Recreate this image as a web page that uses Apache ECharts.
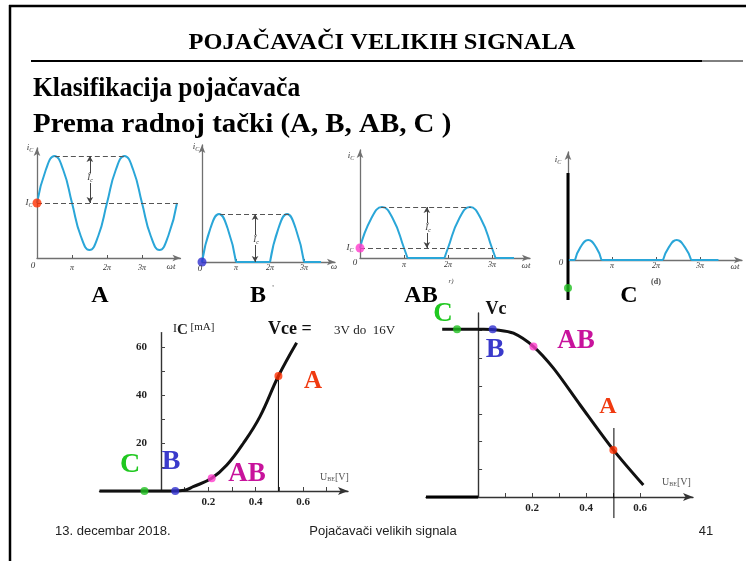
<!DOCTYPE html>
<html><head><meta charset="utf-8">
<script src="https://cdn.jsdelivr.net/npm/echarts@6/dist/echarts.min.js"></script>
<style>html,body{margin:0;padding:0;background:#fff}#c{width:746px;height:561px}</style>
</head><body><div id="c"></div>
<script>
// ===== DATA =====
// top waveform panels (x in units of pi, y in arbitrary current units)
const piTicks = [1, 2, 3];
const piTickLabels = ['π', '2π', '3π'];

const waveA = [[0,55],[0.25,88],[0.5,102],[0.75,88],[1,55],[1.25,22],[1.5,8],[1.75,22],[2,55],[2.25,88],[2.5,102],[2.75,88],[3,55],[3.25,22],[3.5,8],[3.75,22],[4,55]];
const humpsB = [[[0,0],[0.25,34],[0.5,48],[0.75,34],[1,0]], [[2,0],[2.25,34],[2.5,48],[2.75,34],[3,0]]];
const flatsB = [[[1,0],[2,0]], [[3,0],[3.5,0]]];
const humpsAB = [[[0,10],[0.25,39],[0.5,51],[0.75,39],[1,10],[1.08,0]], [[1.92,0],[2,10],[2.25,39],[2.5,51],[2.75,39],[3,10],[3.08,0]]];
const flatsAB = [[[1.08,0],[1.92,0]], [[3.08,0],[3.5,0]]];
const humpsC = [[[0.16,0],[0.28,12.6],[0.46,20],[0.64,12.6],[0.76,0]], [[2.16,0],[2.29,12.6],[2.47,20],[2.66,12.6],[2.8,0]]];
const flatsC = [[[0.02,0],[0.16,0]], [[0.76,0],[2.16,0]], [[2.8,0],[3.42,0]]];
const quiescentA = [0, 55], quiescentB = [0, 0], quiescentAB = [0, 10], quiescentC = [0, -28];
const peakA = 102, peakB = 48, peakAB = 51;

// input characteristic Ic(Ube)
const inUbe = [-0.26, 0, 0.05, 0.1, 0.136, 0.214, 0.278, 0.348, 0.418, 0.496, 0.573];
const inIc  = [0, 0, 0, 0.3, 1.8, 5.3, 10.8, 19.9, 31, 47.9, 61.8];
const inPtC = [-0.07, 0], inPtB = [0.06, 0], inPtAB = [0.214, 5.3], inPtA = [0.496, 47.9];
const icTicks = [10, 20, 30, 40, 50, 60];
const icLabels = [20, 40, 60];
const ubeTicksL = [0.1, 0.2, 0.3, 0.4, 0.5, 0.6, 0.7];
const ubeLabels = [0.2, 0.4, 0.6];

// transfer characteristic Vc(Ube)
const outUbe = [-0.133, 0.02, 0.07, 0.131, 0.205, 0.279, 0.378, 0.501, 0.612];
const outVc  = [6.05, 6.05, 6.03, 5.91, 5.43, 4.65, 3.32, 1.70, 0.43];
const outPtC = [-0.078, 6.05], outPtB = [0.054, 6.05], outPtAB = [0.205, 5.43], outPtA = [0.501, 1.70];
const vcTicks = [1, 2, 3, 4, 5, 6];
const ubeTicksR = [0.1, 0.2, 0.3, 0.4, 0.5, 0.6];

// ===== STYLE =====
const serif = "'Liberation Serif','Times New Roman',serif";
const sans = "'Liberation Sans',Arial,sans-serif";
const waveColor = '#2aa6d8';
const axisGray = '#707070';
const cRed = '#f03a10', cBlue = '#3a3acb', cMag = '#c8139c', cGreen = '#20c820';
const dRed = '#ff3000', dBlue = '#3030d0', dPink = '#ff3ccc', dGreen = '#20c020';

const grids = [
  {left:37, top:148, width:143.5, height:110},
  {left:202, top:145, width:133, height:117},
  {left:360, top:150, width:170, height:108},
  {left:568, top:152, width:174, height:108},
  {left:99.5, top:332.6, width:248.5, height:158.4},
  {left:426, top:313, width:267, height:184}
].map(g => Object.assign({containLabel:false, outerBoundsMode:'none', show:false}, g));

function topX(gi, max, margin) {
  return {gridIndex:gi, type:'value', min:0, max:max,
    axisLine:{onZero:false, lineStyle:{color:axisGray, width:1.3}, symbol:['none','arrow'], symbolSize:[5,8]},
    axisTick:{show:true, inside:true, length:3, customValues:piTicks, lineStyle:{color:'#555'}},
    axisLabel:{show:true, customValues:piTicks, formatter:v => piTickLabels[piTicks.indexOf(Math.round(v))] || '',
      fontFamily:serif, fontStyle:'italic', fontSize:8, color:'#333', margin:margin},
    splitLine:{show:false}};
}
function topY(gi, min, max) {
  return {gridIndex:gi, type:'value', min:min, max:max,
    axisLine:{onZero:false, lineStyle:{color:axisGray, width:1.3}, symbol:['none','arrow'], symbolSize:[5,8]},
    axisTick:{show:false}, axisLabel:{show:false}, splitLine:{show:false}};
}
const xAxes = [
  topX(0, 4.1, 6), topX(1, 3.91, 2), topX(2, 3.864, 3), topX(3, 3.955, 2),
  {gridIndex:4, type:'value', min:-0.26, max:0.79,
    axisLine:{onZero:false, lineStyle:{color:'#333', width:1.4}, symbol:['none','arrow'], symbolSize:[6,10]},
    axisTick:{show:true, inside:true, length:4, customValues:ubeTicksL, lineStyle:{color:'#444'}},
    axisLabel:{show:true, customValues:ubeLabels, formatter:v => v.toFixed(1), fontFamily:serif, fontWeight:'bold', fontSize:11, color:'#222', margin:6},
    splitLine:{show:false}},
  {gridIndex:5, type:'value', min:-0.193, max:0.796,
    axisLine:{onZero:false, lineStyle:{color:'#333', width:1.4}, symbol:['none','arrow'], symbolSize:[6,10]},
    axisTick:{show:true, inside:true, length:4, customValues:ubeTicksR, lineStyle:{color:'#444'}},
    axisLabel:{show:true, customValues:ubeLabels, formatter:v => v.toFixed(1), fontFamily:serif, fontWeight:'bold', fontSize:11, color:'#222', margin:6},
    splitLine:{show:false}}
];
const yAxes = [
  topY(0, 0, 110), topY(1, 0, 117), topY(2, 0, 108), topY(3, 0, 108),
  // offset moves the axis from the grid edge to Ube = 0
  {gridIndex:4, type:'value', min:0, max:66, offset:-61.5,
    axisLine:{onZero:false, lineStyle:{color:'#333', width:1.4}},
    axisTick:{show:true, inside:true, length:4, customValues:icTicks, lineStyle:{color:'#444'}},
    axisLabel:{show:true, customValues:icLabels, fontFamily:serif, fontWeight:'bold', fontSize:11, color:'#222', margin:14},
    splitLine:{show:false}},
  {gridIndex:5, type:'value', min:0, max:6.64, offset:-52.1,
    axisLine:{onZero:false, lineStyle:{color:'#333', width:1.4}},
    axisTick:{show:true, inside:true, length:4, customValues:vcTicks, lineStyle:{color:'#444'}},
    axisLabel:{show:false}, splitLine:{show:false}}
];

function lineS(gi, data, color, width, smooth, extra) {
  return Object.assign({type:'line', xAxisIndex:gi, yAxisIndex:gi, data:data, symbol:'none', showSymbol:false,
    smooth:smooth || false, lineStyle:{color:color, width:width}, silent:true, z:3, clip:false}, extra || {});
}
function dotS(gi, pt, color, size) {
  return {type:'scatter', xAxisIndex:gi, yAxisIndex:gi, data:[pt], symbolSize:size || 8,
    itemStyle:{color:color}, z:6, silent:true, clip:false};
}
const dashStyle = {type:[5,3], color:'#555', width:1};
const arrowStyle = {type:'solid', color:'#444', width:1};
function dashed(x1, y1, x2, y2) {
  return [{coord:[x1,y1], symbol:'none', lineStyle:dashStyle}, {coord:[x2,y2], symbol:'none'}];
}
function dblArrow(x, y1, y2) {
  return [{coord:[x,y1], symbol:'arrow', lineStyle:arrowStyle}, {coord:[x,y2], symbol:'arrow'}];
}
function guides(gi, lines) {
  return {type:'line', xAxisIndex:gi, yAxisIndex:gi, data:[], silent:true,
    markLine:{silent:true, animation:false, symbolSize:[5,6], label:{show:false}, data:lines}};
}

const series = [];
// panel A
series.push(guides(0, [dashed(0.51, peakA, 2.53, peakA), dashed(0, quiescentA[1], 4.1, quiescentA[1]), dblArrow(1.51, quiescentA[1], peakA)]));
series.push(lineS(0, waveA, waveColor, 2, 0.5));
series.push(dotS(0, quiescentA, dRed, 9));
// panel B
series.push(guides(1, [dashed(0.53, peakB, 2.6, peakB), dblArrow(1.56, 0, peakB)]));
humpsB.forEach(h => series.push(lineS(1, h, waveColor, 2, 0.5)));
flatsB.forEach(f => series.push(lineS(1, f, waveColor, 2)));
series.push(dotS(1, quiescentB, dBlue, 9));
// panel AB
series.push(guides(2, [dashed(0.48, peakAB, 2.52, peakAB), dashed(0, quiescentAB[1], 3.11, quiescentAB[1]), dblArrow(1.52, quiescentAB[1], peakAB)]));
humpsAB.forEach(h => series.push(lineS(2, h, waveColor, 2, 0.5)));
flatsAB.forEach(f => series.push(lineS(2, f, waveColor, 2)));
series.push(dotS(2, quiescentAB, dPink, 9));
// panel C
series.push(lineS(3, [[0,-40],[0,87]], '#000', 3));
humpsC.forEach(h => series.push(lineS(3, h, waveColor, 2, 0.5)));
flatsC.forEach(f => series.push(lineS(3, f, waveColor, 2)));
series.push(dotS(3, quiescentC, dGreen, 8));
// input characteristic
series.push(lineS(4, inUbe.map((u,i) => [u, inIc[i]]), '#111', 3, 0.4));
series.push(lineS(4, [[inPtA[0], inPtA[1]], [inPtA[0], 0]], '#000', 1));
series.push(dotS(4, inPtC, dGreen, 8));
series.push(dotS(4, inPtB, dBlue, 8));
series.push(dotS(4, inPtAB, dPink, 8));
series.push(dotS(4, inPtA, dRed, 8));
// transfer characteristic
series.push(lineS(5, [[-0.193,0],[0,0]], '#000', 3));
series.push(lineS(5, outUbe.map((u,i) => [u, outVc[i]]), '#111', 3, 0.3));
series.push(lineS(5, [[0.503, 2.49], [0.503, -0.76]], '#000', 1));
series.push(dotS(5, outPtC, dGreen, 8));
series.push(dotS(5, outPtB, dBlue, 8));
series.push(dotS(5, outPtAB, dPink, 8));
series.push(dotS(5, outPtA, dRed, 8));

// ===== TEXT / DECOR =====
function T(x, y, text, font, fill, align, extra, el) {
  return Object.assign({type:'text', x:x, y:y, silent:true, z:10,
    style:Object.assign({text:text, font:font, fill:fill || '#000', align:align || 'center', textAlign:align || 'center',
      verticalAlign:'middle', textVerticalAlign:'middle'}, extra || {})}, el || {});
}
function L(x1, y1, x2, y2, w, c) {
  return {type:'line', silent:true, z:9, shape:{x1:x1, y1:y1, x2:x2, y2:y2}, style:{stroke:c || '#000', lineWidth:w}};
}
const smallIt = 'italic 9px ' + serif;
const subRich = {a:{fontFamily:serif, fontStyle:'italic', fontSize:9, fill:'#333'}, s:{fontFamily:serif, fontStyle:'italic', fontSize:6, fill:'#333', padding:[4,0,0,0]}};
function sub(x, y, main, s, align) {
  return T(x, y, '{a|' + main + '}{s|' + s + '}', smallIt, '#333', align || 'center', {rich:subRich});
}
const bigL = (x, y, t, c, size) => T(x, y, t, 'bold ' + (size || 27) + 'px ' + serif, c);
const ubeRich = {u:{fontFamily:serif, fontSize:10, fill:'#555'}, s:{fontFamily:serif, fontSize:6, fill:'#555', padding:[4,0,0,0]}};

const graphic = [
  // frame
  L(10, 5, 10, 561, 2.5), L(9, 6, 746, 6, 2.5),
  L(31, 61, 702, 61, 2), L(702, 61, 743, 61, 1),
  // headings
  T(382, 43, 'POJAČAVAČI VELIKIH SIGNALA', 'bold 24px ' + serif, '#000', 'center', null, {scaleX:1.02}),
  T(33, 89, 'Klasifikacija pojačavača', 'bold 27px ' + serif, '#000', 'left', null, {scaleX:0.945}),
  T(33, 125, 'Prema radnoj tački (A, B, AB, C )', 'bold 27px ' + serif, '#000', 'left', null, {scaleX:1.07}),
  // panel A texts
  sub(30, 148, 'i', 'C'), sub(29, 203, 'I', 'C'), T(33, 266, '0', smallIt, '#333'), T(171, 267, 'ωt', smallIt, '#333'),
  T(90, 178, '{a|Î}{s|c}', smallIt, '#333', 'center', {rich:subRich, backgroundColor:'#fff'}),
  // panel B texts
  sub(196, 147, 'i', 'C'), T(200, 269, '0', smallIt, '#333'), T(334, 267, 'ω', smallIt, '#333'),
  T(256, 240, '{a|Î}{s|c}', smallIt, '#333', 'center', {rich:subRich, backgroundColor:'#fff'}),
  // panel AB texts
  sub(351, 156, 'i', 'C'), sub(350, 248, 'I', 'C'), T(355, 263, '0', smallIt, '#333'), T(526, 266, 'ωt', smallIt, '#333'),
  T(428, 228, '{a|Î}{s|c}', smallIt, '#333', 'center', {rich:subRich, backgroundColor:'#fff'}),
  T(451, 281, 'r)', 'italic 7px ' + serif, '#444'),
  // panel C texts
  sub(558, 160, 'i', 'C'), T(561, 263, '0', smallIt, '#333'), T(735, 267, 'ωt', smallIt, '#333'),
  T(656, 282, '(d)', 'bold 8px ' + serif, '#444'),
  // class labels
  bigL(100, 296, 'A', '#000', 24), bigL(258, 296, 'B', '#000', 24), T(273, 289, "'", '9px ' + serif, '#666'),
  bigL(421, 296, 'AB', '#000', 24), bigL(629, 296, 'C', '#000', 24),
  // input characteristic texts
  T(173, 329, '{i|I}{c|C}{m| [mA]}', '12px ' + serif, '#222', 'left',
    {rich:{i:{fontFamily:serif, fontSize:12, fill:'#222'}, c:{fontFamily:serif, fontWeight:'bold', fontSize:15, fill:'#222', padding:[3,0,0,0]}, m:{fontFamily:serif, fontSize:11, fill:'#222', padding:[0,0,4,0]}}}),
  T(268, 329, 'Vce =', 'bold 18px ' + serif, '#111', 'left'),
  T(334, 331, '3V do  16V', '13px ' + serif, '#222', 'left'),
  bigL(313, 382, 'A', cRed, 25), bigL(247, 474, 'AB', cMag, 27), bigL(171, 462, 'B', cBlue, 28), bigL(130, 465, 'C', cGreen, 28),
  T(320, 477, '{u|U}{s|BE}{u|[V]}', '10px ' + serif, '#555', 'left', {rich:ubeRich}),
  // transfer characteristic texts
  bigL(443, 314, 'C', cGreen, 27), T(496, 309, 'Vc', 'bold 18px ' + serif, '#111'),
  bigL(495, 350, 'B', cBlue, 28), bigL(576, 341, 'AB', cMag, 27), bigL(608, 407, 'A', cRed, 24),
  T(662, 482, '{u|U}{s|BE}{u|[V]}', '10px ' + serif, '#555', 'left', {rich:ubeRich}),
  // footer
  T(55, 531, '13. decembar 2018.', '13px ' + sans, '#222', 'left'),
  T(383, 531, 'Pojačavači velikih signala', '13px ' + sans, '#222'),
  T(706, 531, '41', '13px ' + sans, '#222')
];

const chart = echarts.init(document.getElementById('c'), null, {renderer:'canvas'});
chart.setOption({
  animation:false,
  backgroundColor:'#fff',
  grid:grids, xAxis:xAxes, yAxis:yAxes, series:series, graphic:graphic
});
</script></body></html>
